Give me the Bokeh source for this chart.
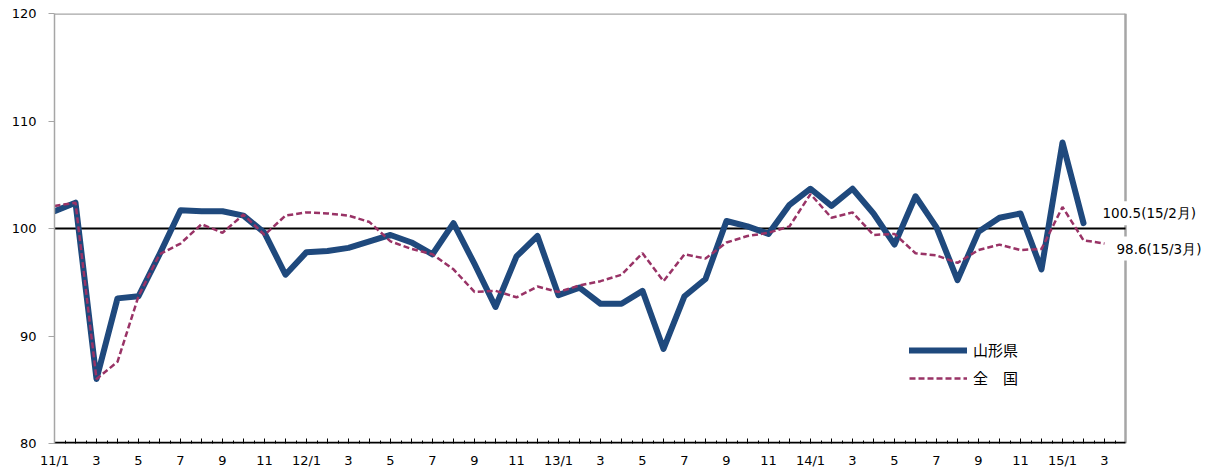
from bokeh.plotting import figure
from bokeh.models import (Range1d, FixedTicker, Legend, LegendItem, Label)
from bokeh.embed import file_html
from bokeh.resources import INLINE

# ---- data ----
months = list(range(51))  # 2011/1 .. 2015/3
yamagata = [101.6, 102.4, 86.0, 93.5, 93.7, 97.6, 101.7, 101.6, 101.6, 101.2, 99.6, 95.7,
            97.8, 97.9, 98.2, 98.8, 99.4, 98.7, 97.6, 100.5, 96.7, 92.7, 97.4, 99.3,
            93.8, 94.5, 93.0, 93.0, 94.2, 88.8, 93.7, 95.3, 100.7, 100.2, 99.5, 102.2,
            103.7, 102.1, 103.7, 101.4, 98.5, 103.0, 100.1, 95.2, 99.7, 101.0, 101.4, 96.2,
            108.0, 100.5]
national = [102.1, 102.4, 86.0, 87.6, 93.7, 97.6, 98.6, 100.4, 99.6, 101.3, 99.4, 101.2,
            101.5, 101.4, 101.2, 100.6, 98.8, 98.1, 97.6, 96.2, 94.1, 94.2, 93.6, 94.6,
            94.1, 94.7, 95.1, 95.7, 97.7, 95.1, 97.6, 97.2, 98.7, 99.3, 99.6, 100.2,
            103.2, 101.0, 101.5, 99.4, 99.5, 97.7, 97.5, 96.8, 98.0, 98.5, 98.0, 98.1,
            102.0, 98.9, 98.6]
tick_labels = ["11/1", "3", "5", "7", "9", "11",
               "12/1", "3", "5", "7", "9", "11",
               "13/1", "3", "5", "7", "9", "11",
               "14/1", "3", "5", "7", "9", "11",
               "15/1", "3"]
y_ticks = [80, 90, 100, 110, 120]
baseline = 100
series_names = ["山形県", "全\u3000国"]
end_labels = ["100.5(15/2月)", "98.6(15/3月)"]

BLUE = "#1F497D"
MAROON = "#993366"
GRAY = "#A6A6A6"
FONT = "DejaVu Sans"

# plot box: 0..X_MAX in data units, the frame is widened so the end labels are not clipped
X_MAX = 51
Y_MIN, Y_MAX = 80, 120
W, H = 1224, 470
BL, BT, BB = 54, 13, 26
BOX_W = 1071
frame_w = W - BL
x_end = X_MAX * frame_w / BOX_W

p = figure(width=W, height=H, output_backend="svg", toolbar_location=None,
           x_range=Range1d(0, x_end), y_range=Range1d(Y_MIN, Y_MAX),
           min_border_left=BL, min_border_right=0, min_border_top=BT, min_border_bottom=BB)
p.xgrid.visible = False
p.ygrid.visible = False
p.outline_line_color = None

# x axis
p.xaxis.ticker = FixedTicker(ticks=months, minor_ticks=[m + 0.5 for m in months])
p.xaxis.major_label_overrides = {m: (tick_labels[m // 2] if m % 2 == 0 else "") for m in months}
p.xaxis.major_tick_in = 5
p.xaxis.major_tick_out = 0
p.xaxis.minor_tick_in = 3
p.xaxis.minor_tick_out = 0
p.xaxis.axis_line_color = None
p.xaxis.major_tick_line_color = "black"
p.xaxis.minor_tick_line_color = "black"
p.xaxis.major_label_text_font = FONT
p.xaxis.major_label_text_font_size = "13px"
p.xaxis.major_label_text_color = "black"
p.xaxis.major_label_standoff = 9

# y axis
p.yaxis.ticker = FixedTicker(ticks=y_ticks, minor_ticks=[])
p.yaxis.axis_line_color = GRAY
p.yaxis.axis_line_width = 1.5
p.yaxis.major_tick_line_color = GRAY
p.yaxis.major_tick_out = 6
p.yaxis.major_tick_in = 0
p.yaxis.minor_tick_line_color = None
p.yaxis.major_label_text_font = FONT
p.yaxis.major_label_text_font_size = "13px"
p.yaxis.major_label_text_color = "black"
p.yaxis.major_label_standoff = 12

# plot box borders (top/right gray, bottom black) and the 100 reference line
p.segment(x0=[0, X_MAX], y0=[Y_MAX, Y_MIN], x1=[X_MAX, X_MAX], y1=[Y_MAX, Y_MAX],
          line_color=GRAY, line_width=2.5, level="underlay")
p.segment(x0=[0], y0=[Y_MIN], x1=[X_MAX], y1=[Y_MIN], line_color="black",
          line_width=3.5, level="underlay")
p.segment(x0=[0], y0=[baseline], x1=[X_MAX], y1=[baseline], line_color="black",
          line_width=2, level="underlay")

r1 = p.line(months[:len(yamagata)], yamagata, line_color=BLUE, line_width=6,
            line_join="round", line_cap="round")
r2 = p.line(months[:len(national)], national, line_color=MAROON, line_width=2.5,
            line_dash="6 3")

legend = Legend(items=[LegendItem(label=series_names[0], renderers=[r1]),
                       LegendItem(label=series_names[1], renderers=[r2])],
                location=(855, 55), orientation="vertical",
                glyph_width=58, glyph_height=20, label_standoff=6, spacing=7,
                padding=0, margin=0, border_line_alpha=0, background_fill_alpha=0,
                label_text_font="Noto Sans CJK JP", label_text_font_size="15px",
                label_text_color="black")
p.add_layout(legend)

p.add_layout(Label(x=len(yamagata) - 1, y=yamagata[-1], x_offset=15, y_offset=10,
                   text=end_labels[0], text_font=FONT, text_font_size="13.5px",
                   text_baseline="middle", text_color="black", padding=4,
                   background_fill_color="white"))
p.add_layout(Label(x=len(national) - 1, y=national[-1], x_offset=8, y_offset=-5,
                   text=end_labels[1], text_font=FONT, text_font_size="13.5px",
                   text_baseline="middle", text_color="black", padding=4,
                   background_fill_color="white"))

open("out.html", "w").write(file_html(p, INLINE))
